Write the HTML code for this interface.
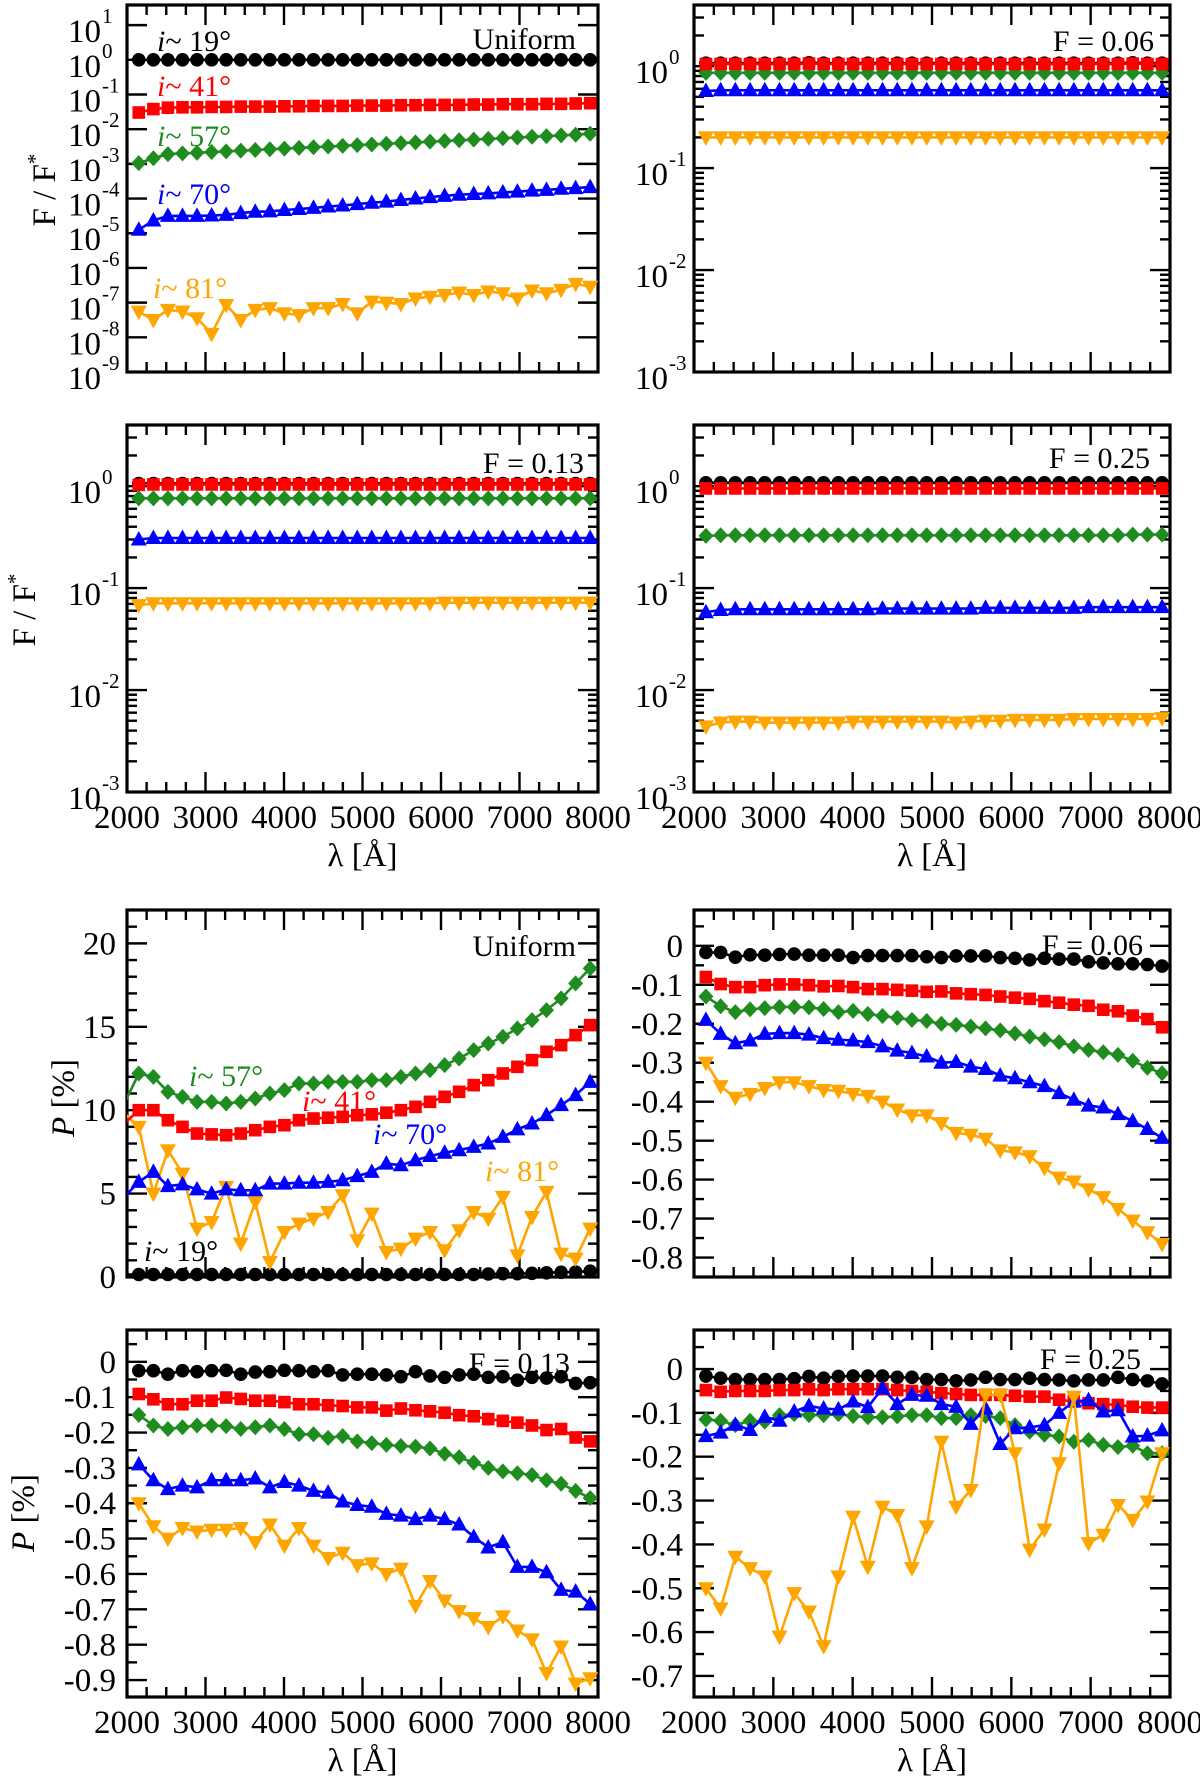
<!DOCTYPE html>
<html><head><meta charset="utf-8"><title>Flux and polarization spectra</title>
<style>
html,body{margin:0;padding:0;background:#fff;}
svg{display:block;font-family:"Liberation Serif","DejaVu Serif",serif;}
</style></head>
<body>
<svg id="fig" xmlns="http://www.w3.org/2000/svg" width="1200" height="1776" viewBox="0 0 1200 1776"></svg>
<script>
// ---------- data ----------
const lam = [2150,2336,2521,2707,2892,3078,3263,3449,3634,3820,4005,4191,4376,4562,4747,4933,5118,5304,5489,5675,5860,6046,6231,6417,6602,6788,6973,7159,7344,7530,7715,7900];
const lamU = [1965,2150,2336,2521,2707,2892,3078,3263,3449,3634,3820,4005,4191,4376,4562,4747,4933,5118,5304,5489,5675,5860,6046,6231,6417,6602,6788,6973,7159,7344,7530,7715,7900];
const xTicks = [2000,3000,4000,5000,6000,7000,8000];

const fU_19 = [1,1,1,1,1,1,1,1,1,1,1,1,1,1,1,1,1,1,1,1,1,1,1,1,1,1,1,1,1,1,1,1];
const fU_41 = [0.0302,0.038,0.0417,0.0427,0.0427,0.0437,0.0437,0.0447,0.0447,0.0447,0.0457,0.0457,0.0468,0.0468,0.0468,0.0479,0.0479,0.0479,0.049,0.049,0.0501,0.0501,0.0501,0.0513,0.0513,0.0525,0.0525,0.0525,0.0537,0.0537,0.055,0.0562];
const fU_57 = [1.05e-3,1.45e-3,1.91e-3,2.0e-3,2.09e-3,2.19e-3,2.29e-3,2.40e-3,2.51e-3,2.63e-3,2.75e-3,2.88e-3,3.02e-3,3.16e-3,3.31e-3,3.47e-3,3.63e-3,3.80e-3,3.98e-3,4.17e-3,4.37e-3,4.57e-3,4.79e-3,5.01e-3,5.25e-3,5.50e-3,5.75e-3,6.03e-3,6.31e-3,6.61e-3,6.92e-3,7.41e-3];
const fU_70 = [1.26e-5,2.34e-5,3.16e-5,3.16e-5,3.16e-5,3.24e-5,3.39e-5,3.80e-5,4.17e-5,4.27e-5,4.68e-5,5.01e-5,5.37e-5,5.89e-5,6.31e-5,6.92e-5,7.59e-5,8.13e-5,9.12e-5,1.0e-4,1.10e-4,1.20e-4,1.29e-4,1.35e-4,1.41e-4,1.51e-4,1.58e-4,1.70e-4,1.78e-4,1.91e-4,2.0e-4,2.14e-4];
const fU_81 = [5.5e-8,3.16e-8,6.17e-8,5.5e-8,3.55e-8,1.26e-8,8.51e-8,3.16e-8,6.17e-8,6.92e-8,4.9e-8,4.37e-8,6.92e-8,6.92e-8,9.12e-8,4.9e-8,1.07e-7,1.0e-7,9.12e-8,1.32e-7,1.48e-7,1.66e-7,1.95e-7,1.66e-7,2.09e-7,1.86e-7,1.32e-7,2.24e-7,1.86e-7,2.34e-7,3.47e-7,2.88e-7];
const f06_19 = [1.07,1.07,1.07,1.07,1.07,1.07,1.07,1.08,1.07,1.07,1.07,1.07,1.07,1.07,1.07,1.07,1.07,1.07,1.07,1.07,1.07,1.07,1.07,1.07,1.07,1.07,1.07,1.07,1.07,1.08,1.07,1.07];
const f06_41 = [1.05,1.05,1.05,1.05,1.05,1.05,1.05,1.06,1.05,1.05,1.05,1.05,1.05,1.05,1.05,1.05,1.05,1.05,1.05,1.05,1.05,1.05,1.05,1.05,1.05,1.05,1.05,1.05,1.05,1.06,1.05,1.05];
const f06_57 = [0.86,0.86,0.86,0.86,0.86,0.86,0.86,0.86,0.86,0.86,0.86,0.86,0.86,0.86,0.86,0.86,0.86,0.86,0.86,0.86,0.86,0.86,0.86,0.86,0.86,0.86,0.86,0.86,0.86,0.86,0.86,0.86];
const f06_70 = [0.57,0.58,0.58,0.58,0.58,0.58,0.58,0.58,0.58,0.58,0.58,0.58,0.58,0.58,0.58,0.58,0.58,0.58,0.58,0.58,0.58,0.58,0.58,0.58,0.58,0.58,0.58,0.58,0.58,0.58,0.58,0.58];
const f06_81 = [0.20,0.20,0.20,0.20,0.20,0.20,0.20,0.20,0.20,0.20,0.20,0.20,0.20,0.20,0.20,0.20,0.20,0.20,0.20,0.20,0.20,0.20,0.20,0.20,0.20,0.20,0.20,0.20,0.20,0.20,0.20,0.20];
const f13_19 = [1.06,1.06,1.06,1.06,1.06,1.06,1.06,1.06,1.06,1.06,1.06,1.06,1.06,1.06,1.06,1.06,1.06,1.06,1.06,1.06,1.06,1.06,1.06,1.06,1.06,1.06,1.06,1.06,1.06,1.06,1.06,1.06];
const f13_41 = [1.03,1.04,1.04,1.04,1.04,1.04,1.04,1.04,1.04,1.04,1.04,1.04,1.04,1.04,1.04,1.04,1.04,1.04,1.04,1.04,1.04,1.04,1.04,1.04,1.04,1.04,1.04,1.04,1.04,1.04,1.04,1.04];
const f13_57 = [0.76,0.76,0.76,0.76,0.76,0.76,0.76,0.76,0.76,0.76,0.76,0.76,0.76,0.76,0.76,0.76,0.76,0.76,0.76,0.76,0.76,0.76,0.76,0.76,0.76,0.76,0.76,0.76,0.76,0.76,0.76,0.76];
const f13_70 = [0.30,0.31,0.31,0.31,0.31,0.31,0.31,0.31,0.31,0.31,0.31,0.31,0.31,0.31,0.31,0.31,0.31,0.31,0.31,0.31,0.31,0.31,0.31,0.31,0.31,0.31,0.31,0.31,0.31,0.31,0.31,0.31];
const f13_81 = [0.068,0.071,0.071,0.071,0.071,0.071,0.071,0.071,0.071,0.071,0.071,0.071,0.071,0.071,0.071,0.071,0.071,0.071,0.071,0.071,0.071,0.072,0.072,0.072,0.072,0.072,0.072,0.072,0.072,0.072,0.072,0.072];
const f25_19 = [1.08,1.08,1.08,1.08,1.08,1.08,1.08,1.08,1.08,1.08,1.08,1.08,1.08,1.08,1.08,1.08,1.08,1.08,1.08,1.08,1.08,1.08,1.08,1.08,1.08,1.08,1.08,1.08,1.08,1.08,1.08,1.08];
const f25_41 = [0.95,0.95,0.95,0.95,0.95,0.95,0.95,0.95,0.95,0.95,0.95,0.95,0.95,0.95,0.95,0.95,0.95,0.95,0.95,0.95,0.95,0.95,0.95,0.95,0.95,0.95,0.95,0.95,0.95,0.95,0.95,0.95];
const f25_57 = [0.325,0.33,0.33,0.33,0.33,0.33,0.33,0.33,0.33,0.33,0.33,0.33,0.33,0.33,0.33,0.33,0.33,0.33,0.33,0.33,0.33,0.33,0.33,0.33,0.33,0.33,0.33,0.33,0.33,0.335,0.335,0.335];
const f25_70 = [0.058,0.061,0.062,0.062,0.062,0.062,0.062,0.062,0.062,0.062,0.062,0.062,0.063,0.063,0.063,0.063,0.063,0.063,0.063,0.064,0.064,0.064,0.064,0.064,0.064,0.064,0.065,0.065,0.065,0.065,0.065,0.065];
const f25_81 = [0.0044,0.0048,0.0049,0.0049,0.0048,0.0048,0.0048,0.0048,0.0048,0.0048,0.0049,0.0049,0.0049,0.0049,0.0049,0.0049,0.0049,0.0048,0.0049,0.005,0.005,0.0051,0.0051,0.0051,0.0051,0.0052,0.0052,0.0052,0.0052,0.0052,0.0052,0.0053];
const pU_19 = [0.15,0.15,0.15,0.15,0.15,0.15,0.15,0.15,0.15,0.15,0.15,0.15,0.15,0.15,0.15,0.15,0.15,0.15,0.15,0.15,0.15,0.15,0.15,0.15,0.15,0.18,0.2,0.2,0.22,0.25,0.28,0.3,0.35];
const pU_41 = [9.2,10.0,10.0,9.4,9.0,8.6,8.55,8.5,8.6,8.8,9.0,9.1,9.4,9.5,9.55,9.6,9.7,9.75,9.85,10.0,10.2,10.5,10.8,11.1,11.5,11.8,12.2,12.6,13.0,13.5,13.9,14.5,15.1];
const pU_57 = [10.4,12.2,12.0,11.1,10.8,10.5,10.5,10.4,10.5,10.7,11.0,11.2,11.6,11.6,11.7,11.7,11.7,11.8,11.8,12.0,12.2,12.4,12.7,13.1,13.6,14.0,14.4,14.9,15.4,16.0,16.7,17.6,18.5];
const pU_70 = [4.8,5.7,6.3,5.45,5.55,5.25,5.0,5.25,5.2,5.2,5.6,5.6,5.65,5.65,5.7,5.8,6.05,6.3,6.8,6.7,7.0,7.25,7.45,7.6,7.8,8.0,8.4,8.85,9.2,9.7,10.3,10.9,11.7];
const pU_81 = [9.8,9.0,5.0,7.6,6.2,2.9,3.3,5.4,2.0,4.5,0.9,2.7,3.2,3.5,3.9,4.9,2.2,3.8,1.5,1.7,2.3,2.7,1.6,2.8,3.9,3.5,4.8,1.3,3.6,5.1,1.4,1.1,2.9];
const p06_19 = [-0.017,-0.017,-0.029,-0.023,-0.024,-0.022,-0.021,-0.024,-0.024,-0.024,-0.030,-0.025,-0.025,-0.025,-0.025,-0.028,-0.030,-0.026,-0.026,-0.026,-0.030,-0.032,-0.036,-0.032,-0.034,-0.034,-0.041,-0.044,-0.046,-0.046,-0.048,-0.052];
const p06_41 = [-0.080,-0.098,-0.106,-0.106,-0.101,-0.099,-0.099,-0.101,-0.104,-0.103,-0.106,-0.111,-0.111,-0.113,-0.115,-0.118,-0.117,-0.122,-0.124,-0.126,-0.130,-0.133,-0.136,-0.142,-0.146,-0.151,-0.154,-0.164,-0.168,-0.179,-0.188,-0.209];
const p06_57 = [-0.13,-0.155,-0.17,-0.163,-0.16,-0.157,-0.157,-0.158,-0.162,-0.17,-0.167,-0.175,-0.18,-0.185,-0.19,-0.193,-0.2,-0.203,-0.207,-0.212,-0.217,-0.225,-0.233,-0.24,-0.247,-0.258,-0.267,-0.273,-0.28,-0.295,-0.313,-0.327];
const p06_70 = [-0.19,-0.226,-0.25,-0.243,-0.226,-0.224,-0.224,-0.228,-0.237,-0.241,-0.243,-0.247,-0.258,-0.269,-0.275,-0.284,-0.3,-0.298,-0.31,-0.316,-0.333,-0.34,-0.35,-0.36,-0.378,-0.395,-0.41,-0.415,-0.432,-0.45,-0.47,-0.493];
const p06_81 = [-0.30,-0.36,-0.39,-0.38,-0.365,-0.35,-0.35,-0.36,-0.37,-0.372,-0.38,-0.385,-0.40,-0.42,-0.435,-0.435,-0.455,-0.48,-0.485,-0.495,-0.525,-0.53,-0.54,-0.57,-0.595,-0.605,-0.625,-0.645,-0.675,-0.705,-0.735,-0.765];
const p13_19 = [-0.025,-0.025,-0.035,-0.025,-0.028,-0.025,-0.024,-0.035,-0.029,-0.028,-0.024,-0.025,-0.028,-0.025,-0.037,-0.035,-0.035,-0.037,-0.042,-0.028,-0.04,-0.044,-0.037,-0.035,-0.044,-0.042,-0.052,-0.044,-0.046,-0.042,-0.061,-0.059];
const p13_41 = [-0.091,-0.106,-0.12,-0.12,-0.11,-0.11,-0.101,-0.105,-0.11,-0.11,-0.114,-0.12,-0.12,-0.123,-0.125,-0.129,-0.129,-0.138,-0.132,-0.137,-0.14,-0.144,-0.151,-0.154,-0.162,-0.167,-0.172,-0.18,-0.193,-0.19,-0.214,-0.225];
const p13_57 = [-0.15,-0.18,-0.19,-0.185,-0.18,-0.18,-0.182,-0.19,-0.185,-0.18,-0.19,-0.205,-0.205,-0.215,-0.21,-0.225,-0.23,-0.235,-0.238,-0.24,-0.245,-0.26,-0.27,-0.285,-0.30,-0.31,-0.315,-0.32,-0.335,-0.345,-0.365,-0.385];
const p13_70 = [-0.29,-0.335,-0.36,-0.35,-0.355,-0.335,-0.335,-0.335,-0.33,-0.355,-0.34,-0.35,-0.365,-0.37,-0.395,-0.405,-0.41,-0.43,-0.435,-0.445,-0.435,-0.445,-0.46,-0.495,-0.525,-0.51,-0.58,-0.58,-0.595,-0.645,-0.65,-0.685];
const p13_81 = [-0.40,-0.465,-0.50,-0.47,-0.48,-0.475,-0.475,-0.47,-0.51,-0.46,-0.52,-0.47,-0.52,-0.555,-0.54,-0.575,-0.57,-0.60,-0.585,-0.69,-0.62,-0.675,-0.705,-0.725,-0.75,-0.72,-0.76,-0.785,-0.88,-0.805,-0.91,-0.895];
const p25_19 = [-0.016,-0.021,-0.024,-0.024,-0.024,-0.024,-0.022,-0.017,-0.021,-0.017,-0.016,-0.016,-0.016,-0.019,-0.019,-0.024,-0.024,-0.027,-0.025,-0.019,-0.024,-0.024,-0.021,-0.024,-0.025,-0.027,-0.025,-0.025,-0.019,-0.024,-0.027,-0.034];
const p25_41 = [-0.048,-0.052,-0.05,-0.05,-0.05,-0.048,-0.048,-0.046,-0.048,-0.046,-0.046,-0.046,-0.046,-0.048,-0.05,-0.052,-0.055,-0.057,-0.059,-0.059,-0.059,-0.061,-0.063,-0.063,-0.07,-0.074,-0.078,-0.08,-0.082,-0.086,-0.088,-0.088];
const p25_57 = [-0.115,-0.118,-0.128,-0.118,-0.12,-0.105,-0.103,-0.105,-0.105,-0.103,-0.107,-0.11,-0.11,-0.108,-0.105,-0.105,-0.112,-0.112,-0.105,-0.107,-0.112,-0.128,-0.143,-0.15,-0.154,-0.166,-0.162,-0.173,-0.178,-0.175,-0.192,-0.192];
const p25_70 = [-0.153,-0.145,-0.127,-0.139,-0.109,-0.118,-0.097,-0.084,-0.09,-0.092,-0.074,-0.087,-0.044,-0.08,-0.059,-0.061,-0.08,-0.086,-0.125,-0.09,-0.171,-0.135,-0.133,-0.128,-0.1,-0.074,-0.071,-0.097,-0.094,-0.154,-0.152,-0.14];
const p25_81 = [-0.5,-0.546,-0.428,-0.454,-0.473,-0.61,-0.511,-0.553,-0.632,-0.473,-0.337,-0.451,-0.314,-0.333,-0.454,-0.359,-0.166,-0.314,-0.276,-0.059,-0.059,-0.192,-0.412,-0.366,-0.215,-0.063,-0.397,-0.378,-0.31,-0.344,-0.302,-0.192];

const logTicksTL = [-9,-8,-7,-6,-5,-4,-3,-2,-1,0,1];
const logTicksF = [-3,-2,-1,0];
const pTicksU = [0,5,10,15,20];
const pTicks06 = [0,-0.1,-0.2,-0.3,-0.4,-0.5,-0.6,-0.7,-0.8];
const pTicks13 = [0,-0.1,-0.2,-0.3,-0.4,-0.5,-0.6,-0.7,-0.8,-0.9];
const pTicks25 = [0,-0.1,-0.2,-0.3,-0.4,-0.5,-0.6,-0.7];

// ---------- drawing ----------
const NS = "http://www.w3.org/2000/svg";
const svg = document.getElementById("fig");
const COL = {k:"#000000", r:"#ff0000", g:"#1e8c1e", b:"#0000ff", o:"#ffa500"};
const TF = 33;
let clipN = 0;

function mk(tag, attrs, parent) {
  const e = document.createElementNS(NS, tag);
  for (const k in attrs) e.setAttribute(k, attrs[k]);
  parent.appendChild(e);
  return e;
}

function panel(p) {
  const g = mk("g", {}, svg);
  
  
  const sx = v => p.x0 + (v - 2000) / 6000 * (p.x1 - p.x0);
  const ty = p.log ? (v => Math.log10(v)) : (v => v);
  const sy = v => p.y1 - (ty(v) - p.ymin) / (p.ymax - p.ymin) * (p.y1 - p.y0);
  const syRaw = t => p.y1 - (t - p.ymin) / (p.ymax - p.ymin) * (p.y1 - p.y0);
  for (let v = 2000; v <= 8000; v += 250) {
    const x = sx(v), major = v % 1000 === 0, L = major ? 20 : 10;
    const t1 = mk("line", {x1:x, x2:x, y1:p.y1, y2:p.y1 - L, stroke:"#000", "stroke-width":2.4}, g);
    
    
    const t2 = mk("line", {x1:x, x2:x, y1:p.y0, y2:p.y0 + L, stroke:"#000", "stroke-width":2.4}, g);
    
    
  }
  if (p.xlabels) {
    xTicks.forEach(v => {
      const t = mk("text", {x:sx(v), y:p.y1 + 36, "text-anchor":"middle", "font-size":TF}, g);
      t.textContent = v;
      
      
    });
    const xl = mk("text", {x:(p.x0 + p.x1) / 2, y:p.y1 + 74, "text-anchor":"middle", "font-size":33}, g);
    xl.textContent = "λ [Å]";
    
    
  }
  const yt = (y, L, nm) => {
    const a = mk("line", {x1:p.x0, x2:p.x0 + L, y1:y, y2:y, stroke:"#000", "stroke-width":2.4}, g);
    
    
    const b = mk("line", {x1:p.x1, x2:p.x1 - L, y1:y, y2:y, stroke:"#000", "stroke-width":2.4}, g);
    
    
  };
  if (p.log) {
    p.ticks.forEach(d => {
      yt(syRaw(d), 20, 'y-tick');
      if (p.minor) {
        for (let m = 2; m <= 9; m++) {
          const t = d + Math.log10(m);
          if (t < p.ymax) yt(syRaw(t), 10, 'y-minor-tick');
        }
      }
      const y = syRaw(d);
      const lab = mk("text", {x:p.x0 - 26, y:y + 17, "text-anchor":"end", "font-size":TF}, g);
      lab.textContent = "10";
      
      
      const ex = mk("text", {x:p.x0 - 25, y:y - 2, "text-anchor":"start", "font-size":21}, g);
      ex.textContent = d;
      
      
    });
  } else {
    const step = p.minorStep;
    for (let v = Math.ceil(p.ymin / step) * step; v <= p.ymax + 1e-9; v += step) {
      const isMajor = p.ticks.some(t => Math.abs(t - v) < 1e-6);
      yt(syRaw(v), isMajor ? 20 : 10, isMajor ? 'y-tick' : 'y-minor-tick');
    }
    p.ticks.forEach(v => {
      const lab = mk("text", {x:p.x0 - 11, y:syRaw(v) + 11, "text-anchor":"end", "font-size":TF}, g);
      lab.textContent = v === 0 ? "0" : String(v);
      
      
    });
  }
  const fr = mk("rect", {x:p.x0, y:p.y0, width:p.x1 - p.x0, height:p.y1 - p.y0, fill:"none", stroke:"#000", "stroke-width":3.2}, g);
  
  
  const id = "clip" + (clipN++);
  const cp = mk("clipPath", {id:id}, g);
  mk("rect", {x:p.x0, y:p.y0, width:p.x1 - p.x0, height:p.y1 - p.y0}, cp);
  p.series.forEach(s => {
    const xs = s.x || lam;
    const sg = mk("g", {}, g);
    
    
    const pts = s.v.map((v, i) => sx(xs[i]).toFixed(1) + "," + sy(v).toFixed(1)).join(" ");
    const line = mk("polyline", {points:pts, fill:"none", stroke:s.c, "stroke-width":2.6, "clip-path":"url(#" + id + ")"}, sg);
    
    
    s.v.forEach((v, i) => {
      const x = sx(xs[i]), y = sy(v);
      if (x < p.x0 || x > p.x1) return;
      let m;
      if (s.m === "c") m = mk("circle", {cx:x, cy:y, r:6.8, fill:s.c}, sg);
      else if (s.m === "s") m = mk("rect", {x:x - 6.3, y:y - 6.3, width:12.6, height:12.6, fill:s.c}, sg);
      else if (s.m === "d") m = mk("polygon", {points:`${x},${y-8} ${x+7.5},${y} ${x},${y+8} ${x-7.5},${y}`, fill:s.c}, sg);
      else if (s.m === "u") m = mk("polygon", {points:`${x},${y-8.5} ${x+8},${y+6} ${x-8},${y+6}`, fill:s.c}, sg);
      else m = mk("polygon", {points:`${x},${y+8.5} ${x+8},${y-6} ${x-8},${y-6}`, fill:s.c}, sg);
      
      
    });
  });
  const an = mk("text", {x:p.annX, y:p.annY, "text-anchor":"end", "font-size":30}, g);
  an.textContent = p.ann;
  
  
  return g;
}

function S(name, v, c, m, x) { return {name, v, c, m, x}; }

const L = {x0:127, x1:598}, R = {x0:694, x1:1170};

panel(Object.assign({name:"flux-uniform-panel", y0:5, y1:372, log:true, ymin:-9, ymax:1.58, ticks:logTicksTL, minor:false, xlabels:false, ann:"Uniform", annX:576, annY:49,
  series:[S("flux-uniform-i81",fU_81,COL.o,"t"),S("flux-uniform-i70",fU_70,COL.b,"u"),S("flux-uniform-i57",fU_57,COL.g,"d"),S("flux-uniform-i41",fU_41,COL.r,"s"),S("flux-uniform-i19",fU_19,COL.k,"c")]}, L));
panel(Object.assign({name:"flux-f006-panel", y0:5, y1:372, log:true, ymin:-3, ymax:0.6, ticks:logTicksF, minor:true, xlabels:false, ann:"F = 0.06", annX:1154, annY:51,
  series:[S("flux-f006-i81",f06_81,COL.o,"t"),S("flux-f006-i70",f06_70,COL.b,"u"),S("flux-f006-i57",f06_57,COL.g,"d"),S("flux-f006-i19",f06_19,COL.k,"c"),S("flux-f006-i41",f06_41,COL.r,"s")]}, R));
panel(Object.assign({name:"flux-f013-panel", y0:425, y1:792, log:true, ymin:-3, ymax:0.6, ticks:logTicksF, minor:true, xlabels:true, ann:"F = 0.13", annX:584, annY:473,
  series:[S("flux-f013-i81",f13_81,COL.o,"t"),S("flux-f013-i70",f13_70,COL.b,"u"),S("flux-f013-i57",f13_57,COL.g,"d"),S("flux-f013-i19",f13_19,COL.k,"c"),S("flux-f013-i41",f13_41,COL.r,"s")]}, L));
panel(Object.assign({name:"flux-f025-panel", y0:425, y1:792, log:true, ymin:-3, ymax:0.6, ticks:logTicksF, minor:true, xlabels:true, ann:"F = 0.25", annX:1150, annY:468,
  series:[S("flux-f025-i81",f25_81,COL.o,"t"),S("flux-f025-i70",f25_70,COL.b,"u"),S("flux-f025-i57",f25_57,COL.g,"d"),S("flux-f025-i19",f25_19,COL.k,"c"),S("flux-f025-i41",f25_41,COL.r,"s")]}, R));
panel(Object.assign({name:"pol-uniform-panel", y0:910, y1:1277, log:false, ymin:0, ymax:22, ticks:pTicksU, minorStep:1, xlabels:false, ann:"Uniform", annX:576, annY:956,
  series:[S("pol-uniform-i19",pU_19,COL.k,"c",lamU),S("pol-uniform-i81",pU_81,COL.o,"t",lamU),S("pol-uniform-i70",pU_70,COL.b,"u",lamU),S("pol-uniform-i41",pU_41,COL.r,"s",lamU),S("pol-uniform-i57",pU_57,COL.g,"d",lamU)]}, L));
panel(Object.assign({name:"pol-f006-panel", y0:910, y1:1277, log:false, ymin:-0.85, ymax:0.092, ticks:pTicks06, minorStep:0.05, xlabels:false, ann:"F = 0.06", annX:1143, annY:955,
  series:[S("pol-f006-i81",p06_81,COL.o,"t"),S("pol-f006-i70",p06_70,COL.b,"u"),S("pol-f006-i57",p06_57,COL.g,"d"),S("pol-f006-i41",p06_41,COL.r,"s"),S("pol-f006-i19",p06_19,COL.k,"c")]}, R));
panel(Object.assign({name:"pol-f013-panel", y0:1330, y1:1697, log:false, ymin:-0.948, ymax:0.09, ticks:pTicks13, minorStep:0.05, xlabels:true, ann:"F = 0.13", annX:570, annY:1373,
  series:[S("pol-f013-i81",p13_81,COL.o,"t"),S("pol-f013-i70",p13_70,COL.b,"u"),S("pol-f013-i57",p13_57,COL.g,"d"),S("pol-f013-i41",p13_41,COL.r,"s"),S("pol-f013-i19",p13_19,COL.k,"c")]}, L));
panel(Object.assign({name:"pol-f025-panel", y0:1330, y1:1697, log:false, ymin:-0.748, ymax:0.089, ticks:pTicks25, minorStep:0.05, xlabels:true, ann:"F = 0.25", annX:1141, annY:1369,
  series:[S("pol-f025-i19",p25_19,COL.k,"c"),S("pol-f025-i41",p25_41,COL.r,"s"),S("pol-f025-i57",p25_57,COL.g,"d"),S("pol-f025-i70",p25_70,COL.b,"u"),S("pol-f025-i81",p25_81,COL.o,"t")]}, R));
</script>
<script>
(function(){
  const NS = "http://www.w3.org/2000/svg";
  const svg = document.getElementById("fig");
  function txt(html, attrs, name) {
    const t = document.createElementNS(NS, "text");
    for (const k in attrs) t.setAttribute(k, attrs[k]);
    t.innerHTML = html;
    
    
    svg.appendChild(t);
  }
  const fy = '<tspan>F / F</tspan><tspan font-size="21" dy="-13">*</tspan>';
  txt(fy, {transform:"translate(55,190) rotate(-90)", "text-anchor":"middle", "font-size":33}, "y-axis-title-flux-top");
  txt(fy, {transform:"translate(35,610) rotate(-90)", "text-anchor":"middle", "font-size":33}, "y-axis-title-flux-mid");
  const py = '<tspan font-style="italic">P</tspan> [%]';
  txt(py, {transform:"translate(74,1098) rotate(-90)", "text-anchor":"middle", "font-size":33}, "y-axis-title-pol-mid");
  txt(py, {transform:"translate(34,1513) rotate(-90)", "text-anchor":"middle", "font-size":33}, "y-axis-title-pol-bottom");
  const lab = (deg, x, y, c, n) => txt('<tspan font-style="italic">i</tspan>~ ' + deg + '°', {x:x, y:y, fill:c, "font-size":30}, n);
  lab(19, 157, 51, "#000000", "label-i19-flux");
  lab(41, 157, 96, "#ff0000", "label-i41-flux");
  lab(57, 157, 146, "#1e8c1e", "label-i57-flux");
  lab(70, 157, 204, "#0000ff", "label-i70-flux");
  lab(81, 153, 298, "#ffa500", "label-i81-flux");
  lab(57, 189, 1086, "#1e8c1e", "label-i57-pol");
  lab(41, 302, 1111, "#ff0000", "label-i41-pol");
  lab(70, 373, 1144, "#0000ff", "label-i70-pol");
  lab(81, 485, 1181, "#ffa500", "label-i81-pol");
  lab(19, 144, 1261, "#000000", "label-i19-pol");
})();
</script>
</body></html>
